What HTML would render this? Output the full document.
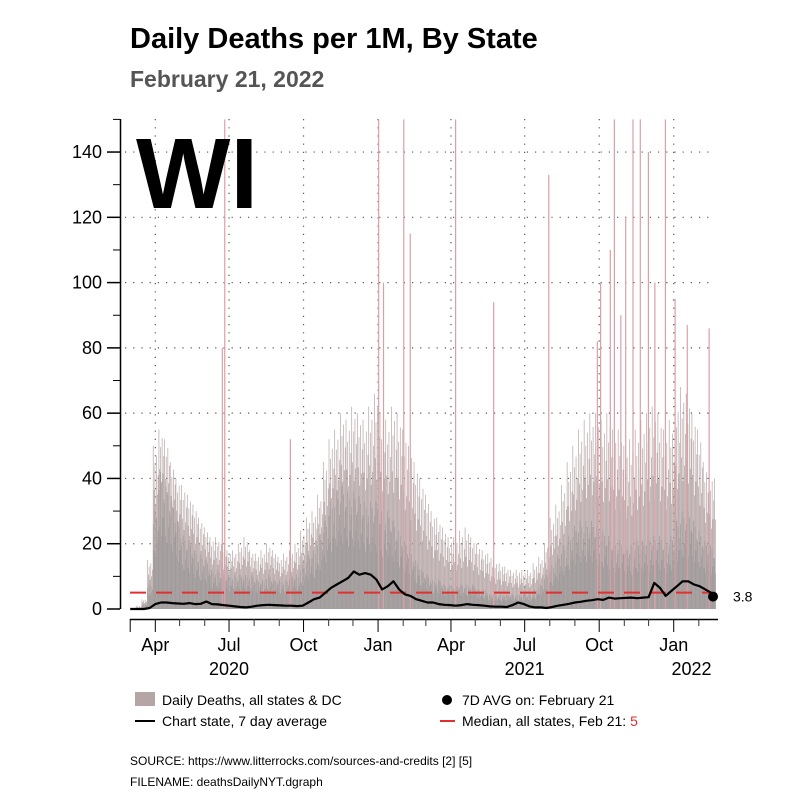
<!DOCTYPE html>
<html><head><meta charset="utf-8"><style>
body{margin:0;background:#fff;font-family:"Liberation Sans",Arial,sans-serif}
svg{display:block}
</style></head><body>
<svg id="chart" width="800" height="800" viewBox="0 0 800 800" font-family="Liberation Sans, Arial, sans-serif">
<text x="130" y="48" font-size="29" font-weight="bold" fill="#000">Daily Deaths per 1M, By State</text>
<text x="130" y="87" font-size="23" font-weight="bold" fill="#555">February 21, 2022</text>
<g id="grid"></g>
<g id="bars"></g>
<g id="spikes"></g>
<text x="136" y="208" font-size="100" font-weight="bold" fill="#000">WI</text>
<g id="axes"></g>
<g id="series"></g>
<g>
 <rect x="135" y="692" width="20" height="14" fill="#b5a5a5"/>
 <text x="162" y="705" font-size="14">Daily Deaths, all states &amp; DC</text>
 <line x1="135" y1="721" x2="155" y2="721" stroke="#000" stroke-width="2"/>
 <text x="162" y="726" font-size="14">Chart state, 7 day average</text>
 <circle cx="447" cy="700" r="5" fill="#000"/>
 <text x="462" y="705" font-size="14">7D AVG on: February 21</text>
 <line x1="440" y1="721" x2="455" y2="721" stroke="#e03030" stroke-width="2"/>
 <text x="462" y="726" font-size="14">Median, all states, Feb 21: <tspan fill="#e03030">5</tspan></text>
</g>
<text x="130" y="765" font-size="12">SOURCE: https://www.litterrocks.com/sources-and-credits [2] [5]</text>
<text x="130" y="786" font-size="12">FILENAME: deathsDailyNYT.dgraph</text>
</svg>
<script>
const yTicks=[0,20,40,60,80,100,120,140];
const monthLabels=["Apr","Jul","Oct","Jan","Apr","Jul","Oct","Jan"];
const monthDays=[31,122,214,306,396,487,579,671];
const yearLabels=["2020","2021","2022"];
const median=5;
const lastValue=3.8;
const wiWeekly=[0,0,0,0.3,1.5,2,2,1.8,1.7,1.6,1.8,1.5,1.6,2.3,1.5,1.4,1.2,1,0.8,0.6,0.5,0.7,1,1.2,1.3,1.2,1.1,1,1,0.9,1,2,3,3.5,5,6.5,7.5,8.5,9.5,11.5,10.5,11,10.5,9,6,7,8.5,6,4.5,4,3,2.5,2,2,1.5,1.3,1.2,1,1.2,1.5,1.3,1.2,1,0.8,0.7,0.7,0.6,1.2,2,1.5,0.8,0.5,0.5,0.3,0.6,1,1.3,1.6,2,2.2,2.5,2.7,3,2.8,3.5,3.2,3.3,3.4,3.5,3.3,3.5,3.6,8,6.5,4,5.5,7,8.5,8.5,7.5,7,6,5,3.8];
const highWeekly=[0,1,3,15,50,55,52,45,40,38,35,32,28,25,22,22,20,18,18,20,22,18,17,18,20,18,16,17,18,20,24,28,30,35,45,52,55,60,58,62,60,58,62,66,60,58,62,60,55,50,45,40,35,30,28,25,22,22,24,25,22,20,18,17,15,14,13,12,12,12,12,14,16,20,28,32,38,45,50,55,58,60,60,58,60,55,55,50,52,55,58,60,62,60,55,58,65,68,66,60,55,45,42,40];
const baseWeekly=[0,0,1,5,20,28,25,22,18,15,14,12,11,10,8,8,7,7,7,7,7,7,6,6,7,6,6,6,7,7,9,11,12,15,18,22,24,25,24,24,23,22,22,22,20,20,18,16,14,12,10,8,7,6,6,5,5,5,5,5,5,4,4,3,3,3,3,3,3,3,3,4,5,7,9,11,13,15,17,18,18,18,17,16,15,14,14,13,13,14,14,15,15,15,14,15,18,20,20,18,16,14,13,12];
const spikeDays=[113,116,197,306,312,337,345,401,448,516,576,580,592,597,605,611,620,629,639,647,660,672,687,714];
const spikeValues=[80,150,52,150,100,150,115,150,94,133,82,100,110,150,90,120,150,150,140,100,150,95,87,86];
const dayPattern=[1,0.55,0.8,0.4,0.9,0.5,0.7];
const basePattern=[1.3,0.9,1.5,0.8,1.4,1.0,1.2];

const NS="http://www.w3.org/2000/svg";
const X0=130.2,PX=0.81,Y0=609,PY=3.264,YMAX=150;
const xd=d=>X0+d*PX;
const yv=v=>Y0-Math.min(v,YMAX)*PY;
function mk(tag,attrs,parent){const e=document.createElementNS(NS,tag);for(const k in attrs)e.setAttribute(k,attrs[k]);parent.appendChild(e);return e;}
const grid=document.getElementById('grid'),bars=document.getElementById('bars'),spikes=document.getElementById('spikes'),axes=document.getElementById('axes'),series=document.getElementById('series');
yTicks.forEach(t=>{if(t===0)return;const l=mk('line',{x1:125,x2:715,y1:yv(t),y2:yv(t),stroke:'#555','stroke-width':1.2,'stroke-dasharray':'1.2 7'},grid);

});
monthDays.forEach(d=>{const l=mk('line',{x1:xd(d),x2:xd(d),y1:119,y2:Y0,stroke:'#555','stroke-width':1.2,'stroke-dasharray':'1.2 7'},grid);

});
baseWeekly.forEach((b,w)=>{const h=highWeekly[w];
 for(let k=0;k<7;k++){const d=w*7+k;if(d>722)break;const v=b+(h-b)*dayPattern[k];
  const r=mk('rect',{x:xd(d),y:yv(v),width:PX*0.9,height:Y0-yv(v),fill:'#ad9a9a',opacity:0.85},bars);
  
  
  const bv=b*basePattern[k];
  const r2=mk('rect',{x:xd(d),y:yv(bv),width:PX*0.9,height:Y0-yv(bv),fill:'#9e9a9a'},bars);
  
  }
});
spikeDays.forEach((d,i)=>{const s=mk('rect',{x:xd(d),y:yv(spikeValues[i]),width:1.2,height:Y0-yv(spikeValues[i]),fill:'#d9a0a6'},spikes);
 
 });
const ya=mk('line',{x1:120.5,x2:120.5,y1:119,y2:Y0,stroke:'#000','stroke-width':1.5},axes);


yTicks.forEach(t=>{const l=mk('line',{x1:107,x2:120,y1:yv(t),y2:yv(t),stroke:'#000','stroke-width':1.5},axes);


const m=mk('line',{x1:113,x2:120,y1:yv(t+10),y2:yv(t+10),stroke:'#000','stroke-width':1},axes);


const tx=mk('text',{x:102,y:yv(t)+6,'font-size':18,'text-anchor':'end'},axes);tx.textContent=t;

});
const xa=mk('line',{x1:130,x2:718,y1:619.5,y2:619.5,stroke:'#000','stroke-width':1.5},axes);


const allMonths=[0,31,61,92,122,153,184,214,245,275,306,337,365,396,426,457,487,518,549,579,610,640,671,702];
allMonths.forEach(d=>{const maj=monthDays.includes(d)||d===0;const l=mk('line',{x1:xd(d),x2:xd(d),y1:619,y2:maj?632:626,stroke:maj?'#000':'#333','stroke-width':1},axes);

});
monthDays.forEach((d,i)=>{const t=mk('text',{x:xd(d),y:651,'font-size':18,'text-anchor':'middle'},axes);t.textContent=monthLabels[i];

});
[[122,0],[487,1],[693,2]].forEach(([d,i])=>{const t=mk('text',{x:xd(d),y:675,'font-size':18,'text-anchor':'middle'},axes);t.textContent=yearLabels[i];

});
const ml=mk('line',{x1:130,x2:712,y1:yv(median),y2:yv(median),stroke:'#e03030','stroke-width':2,'stroke-dasharray':'16 10'},series);


const pts=wiWeekly.map((v,w)=>xd(Math.min(w*7+3,722)).toFixed(1)+','+yv(v).toFixed(1));
pts.unshift(xd(0)+','+yv(0));
const pl=mk('polyline',{points:pts.join(' '),fill:'none',stroke:'#000','stroke-width':2.2,'stroke-linejoin':'round'},series);


const dot=mk('circle',{cx:xd(722)-2,cy:yv(lastValue),r:5,fill:'#000'},series);


const lv=mk('text',{x:733,y:yv(lastValue)+5,'font-size':14},series);lv.textContent=lastValue;


</script>
</body></html>
